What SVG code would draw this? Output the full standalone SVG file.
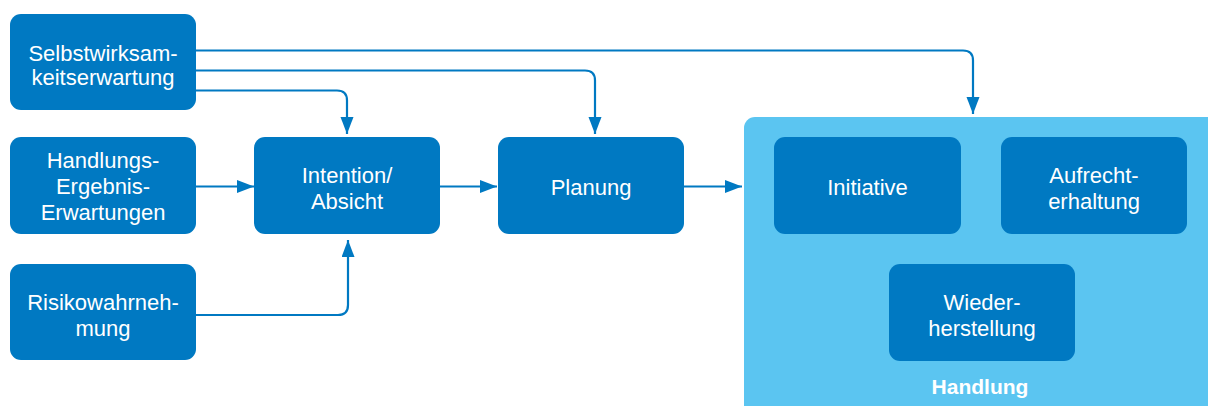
<svg xmlns="http://www.w3.org/2000/svg" width="1208" height="406" viewBox="0 0 1208 406">
  <style>
    .box { fill: #0079C2; }
    .area { fill: #5BC5F1; }
    .lbl { font-family: "Liberation Sans", Arial, sans-serif; font-size: 22px; fill: #FFFFFF; text-anchor: middle; }
    .title { font-family: "Liberation Sans", Arial, sans-serif; font-size: 21px; font-weight: bold; fill: #FFFFFF; text-anchor: middle; }
    .conn { fill: none; stroke: #0079C2; stroke-width: 2.2; }
  </style>
  <defs>
    <marker id="arrow" markerUnits="userSpaceOnUse" markerWidth="18" markerHeight="14" refX="17" refY="6.5" orient="auto">
      <path d="M0,0 L17,6.5 L0,13 z" fill="#0079C2"/>
    </marker>
  </defs>

  <!-- action container -->
  <g id="handlung">
    <rect class="area" x="744" y="117" width="480" height="300" rx="11"/>
    <text class="title" x="980" y="394">Handlung</text>
  </g>

  <g id="selbstwirksamkeit">
    <rect class="box" x="10" y="14" width="186" height="96" rx="11"/>
    <text class="lbl" x="103" y="61">Selbstwirksam-</text>
    <text class="lbl" x="103" y="85">keitserwartung</text>
  </g>

  <g id="ergebniserwartungen">
    <rect class="box" x="10" y="137" width="186" height="97" rx="11"/>
    <text class="lbl" x="103" y="168">Handlungs-</text>
    <text class="lbl" x="103" y="194">Ergebnis-</text>
    <text class="lbl" x="103" y="220">Erwartungen</text>
  </g>

  <g id="risikowahrnehmung">
    <rect class="box" x="10" y="264" width="186" height="96" rx="11"/>
    <text class="lbl" x="103" y="310">Risikowahrneh-</text>
    <text class="lbl" x="103" y="336">mung</text>
  </g>

  <g id="intention">
    <rect class="box" x="254" y="137" width="186" height="97" rx="11"/>
    <text class="lbl" x="347" y="183">Intention/</text>
    <text class="lbl" x="347" y="209">Absicht</text>
  </g>

  <g id="planung">
    <rect class="box" x="498" y="137" width="186" height="97" rx="11"/>
    <text class="lbl" x="591" y="195">Planung</text>
  </g>

  <g id="initiative">
    <rect class="box" x="774" y="137" width="187" height="97" rx="11"/>
    <text class="lbl" x="867.5" y="195">Initiative</text>
  </g>

  <g id="aufrechterhaltung">
    <rect class="box" x="1001" y="137" width="186" height="97" rx="11"/>
    <text class="lbl" x="1094" y="183">Aufrecht-</text>
    <text class="lbl" x="1094" y="209">erhaltung</text>
  </g>

  <g id="wiederherstellung">
    <rect class="box" x="889" y="264" width="186" height="97" rx="11"/>
    <text class="lbl" x="982" y="310">Wieder-</text>
    <text class="lbl" x="982" y="336">herstellung</text>
  </g>

  <g id="connectors">
    <path class="conn" d="M196,50.5 H963 Q973,50.5 973,60.5 V114" marker-end="url(#arrow)"/>
    <path class="conn" d="M196,70.5 H585 Q595,70.5 595,80.5 V134" marker-end="url(#arrow)"/>
    <path class="conn" d="M196,90.5 H337 Q347,90.5 347,100.5 V134" marker-end="url(#arrow)"/>
    <path class="conn" d="M196,186.5 H254" marker-end="url(#arrow)"/>
    <path class="conn" d="M196,315 H338 Q348,315 348,305 V240" marker-end="url(#arrow)"/>
    <path class="conn" d="M440,186.5 H497" marker-end="url(#arrow)"/>
    <path class="conn" d="M684,186.5 H742" marker-end="url(#arrow)"/>
  </g>
</svg>
